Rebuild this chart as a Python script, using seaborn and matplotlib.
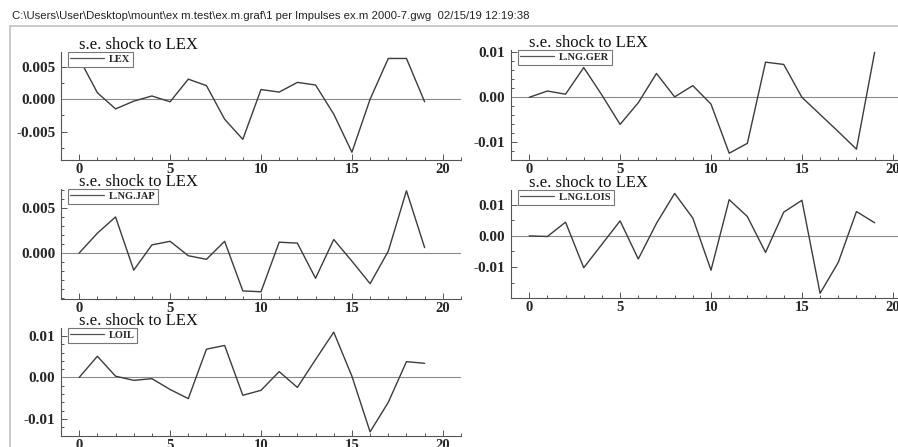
import pandas as pd
import matplotlib
matplotlib.use("Agg")
import matplotlib.pyplot as plt
import seaborn as sns
from matplotlib.ticker import MultipleLocator, FormatStrFormatter
from matplotlib.lines import Line2D

# --- datos (respuestas al impulso) ---
steps = list(range(20))
lex = [0.0063, 0.0010, -0.0015, -0.0003, 0.0005, -0.0004, 0.0031, 0.0021, -0.0031, -0.0062,
       0.0015, 0.0011, 0.0026, 0.0022, -0.0023, -0.0082, 0.0000, 0.0063, 0.0063, -0.0004]
ng_ger = [0.0000, 0.0014, 0.0007, 0.0066, 0.0005, -0.0060, -0.0012, 0.0053, 0.0001, 0.0026,
          -0.0015, -0.0124, -0.0102, 0.0078, 0.0073, 0.0000, -0.0038, -0.0076, -0.0115, 0.0100]
ng_jap = [0.0000, 0.0022, 0.0040, -0.0019, 0.0009, 0.0013, -0.0003, -0.0007, 0.0013, -0.0042,
          -0.0043, 0.0012, 0.0011, -0.0028, 0.0015, -0.0009, -0.0034, 0.0002, 0.0069, 0.0006]
ng_lois = [0.0000, -0.0002, 0.0044, -0.0102, -0.0027, 0.0048, -0.0074, 0.0040, 0.0136, 0.0057,
           -0.0110, 0.0116, 0.0062, -0.0053, 0.0076, 0.0114, -0.0184, -0.0085, 0.0078, 0.0042]
loil = [0.0000, 0.0051, 0.0003, -0.0007, -0.0003, -0.0029, -0.0051, 0.0068, 0.0077, -0.0043,
        -0.0031, 0.0014, -0.0024, 0.0043, 0.0109, 0.0003, -0.0131, -0.0060, 0.0038, 0.0034]

series_names = ["LEX", "L.NG.GER", "L.NG.JAP", "L.NG.LOIS", "LOIL"]
series_vals = [lex, ng_ger, ng_jap, ng_lois, loil]
panel_title = "s.e. shock to LEX"
header = r"C:\Users\User\Desktop\mount\ex m.test\ex.m.graf\1 per Impulses ex.m 2000-7.gwg  02/15/19 12:19:38"

# --- estilo ---
sns.set_theme(style="ticks")
plt.rcParams['font.family'] = ['Liberation Serif', 'DejaVu Serif']
plt.rcParams['axes.edgecolor'] = '#555555'
plt.rcParams['axes.linewidth'] = 0.8

W, H = 898, 447
fig = plt.figure(figsize=(W / 100, H / 100), dpi=100)
fig.patch.set_facecolor('white')

# posiciones en pixeles: (izq, arriba, abajo)
boxes = [(61, 52, 160), (511, 50, 160), (61, 189, 299), (511, 190, 298), (61, 328, 436)]
ylims = [(-0.0094, 0.0073), (-0.0139, 0.0105), (-0.0051, 0.0071), (-0.0199, 0.0147), (-0.0141, 0.0119)]
majors = [[-0.005, 0.0, 0.005], [-0.01, 0.0, 0.01], [0.0, 0.005], [-0.01, 0.0, 0.01], [-0.01, 0.0, 0.01]]
minors = [0.0025, 0.002, 0.001, 0.005, 0.002]
fmts = ['%.3f', '%.2f', '%.3f', '%.2f', '%.2f']

line_col = '#3c3c3c'

for i, name in enumerate(series_names):
    left, top, bottom = boxes[i]
    ax = fig.add_axes([left / W, 1 - bottom / H, 400 / W, (bottom - top) / H])
    df = pd.DataFrame({'step': steps, 'value': series_vals[i]})
    ax.axhline(0, color='#8a8a8a', linewidth=0.8, zorder=1)
    sns.lineplot(data=df, x='step', y='value', ax=ax, color=line_col, linewidth=1.0, legend=False)
    ax.set_xlim(-1, 21)
    ax.set_ylim(*ylims[i])
    ax.set_xlabel('')
    ax.set_ylabel('')
    ax.set_yticks(majors[i])
    ax.yaxis.set_minor_locator(MultipleLocator(minors[i]))
    ax.yaxis.set_major_formatter(FormatStrFormatter(fmts[i]))
    ax.set_xticks([0, 5, 10, 15, 20])
    ax.xaxis.set_minor_locator(MultipleLocator(1))
    for s in ['top', 'right']:
        ax.spines[s].set_visible(False)
    ax.tick_params(which='major', direction='in', length=4.5, width=0.7, color='#555555')
    ax.tick_params(which='minor', direction='in', length=2.5, width=0.7, color='#555555')
    ax.tick_params(axis='y', labelsize=11, pad=4)
    ax.tick_params(axis='x', labelsize=10.5, pad=2)
    for lab in ax.get_xticklabels() + ax.get_yticklabels():
        lab.set_fontweight('bold')
    ax.text(0.045, 1.025, panel_title, transform=ax.transAxes, ha='left', va='baseline',
            fontsize=12, color='#111111')
    handle = Line2D([], [], color='#555555', linewidth=0.9)
    leg = ax.legend([handle], [name], loc='upper left', bbox_to_anchor=(0.017, 1.0),
                    borderaxespad=0, fancybox=False, framealpha=1, edgecolor='#777777',
                    handlelength=3.2, handletextpad=0.5, borderpad=0.25,
                    prop={'family': 'Liberation Serif', 'weight': 'bold', 'size': 7.5})
    leg.get_frame().set_linewidth(0.8)

# cabecera y marco de ventana
fig.text(12 / W, 1 - 16 / H, header, ha='left', va='center', fontsize=8.2,
         family='Liberation Sans', color='#222222')
fig.add_artist(Line2D([10 / W, 1], [1 - 26 / H, 1 - 26 / H], transform=fig.transFigure,
                      color='#c0c0c0', linewidth=1.2))
fig.add_artist(Line2D([10 / W, 10 / W], [1 - 26 / H, 0], transform=fig.transFigure,
                      color='#c0c0c0', linewidth=1.2))

fig.savefig('out.png', dpi=100, facecolor='white')
plt.close(fig)
